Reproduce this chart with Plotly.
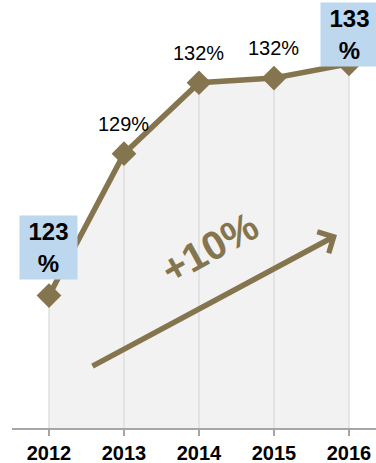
import plotly.graph_objects as go

years = ["2012", "2013", "2014", "2015", "2016"]
values = [123.0, 129.0, 132.0, 132.2, 132.8]
labels = ["123%", "129%", "132%", "132%", "133%"]
highlight = [True, False, False, False, True]
growth_label = "+10%"

BROWN = "#85754E"
BASE = 117.4
FONT = "Arial, Liberation Sans"

fig = go.Figure()

# drop lines from each point to the baseline
dx, dy = [], []
for y, v in zip(years, values):
    dx += [y, y, None]
    dy += [BASE, v, None]

fig.add_trace(go.Scatter(
    x=years, y=values, mode="lines", fill="tozeroy",
    fillcolor="#F2F2F2", line=dict(width=0), hoverinfo="skip", showlegend=False))
fig.add_trace(go.Scatter(
    x=dx, y=dy, mode="lines", line=dict(color="#D9D9D9", width=1.2),
    hoverinfo="skip", showlegend=False))
fig.add_trace(go.Scatter(
    x=years, y=values, mode="lines+markers",
    line=dict(color=BROWN, width=5.5),
    marker=dict(symbol="diamond", size=19, color=BROWN),
    showlegend=False))

for i, (y, v, lab, hl) in enumerate(zip(years, values, labels, highlight)):
    if hl:
        num = lab.rstrip("%")
        fig.add_annotation(
            x=i, y=v, xref="x", yref="y",
            yshift=(48 if i == 0 else 29),
            text=f"<b>{num}</b><br><b>%</b>",
            showarrow=False, bgcolor="#BDD7EE", width=57, height=63,
            borderpad=0, font=dict(family=FONT, size=24, color="#000000"),
            xanchor="center", yanchor="middle")
    else:
        fig.add_annotation(
            x=i, y=v, xref="x", yref="y", yshift=30,
            text=lab, showarrow=False,
            font=dict(family=FONT, size=20, color="#000000"),
            xanchor="center", yanchor="middle")

fig.update_layout(
    width=376, height=463,
    margin=dict(l=12, r=0, t=0, b=35),
    paper_bgcolor="white", plot_bgcolor="white",
    xaxis=dict(type="category", range=[-0.493, 4.36], showgrid=False,
               showline=True, linecolor="#A6A6A6", linewidth=2,
               ticks="outside", ticklen=6, tickcolor="#A6A6A6", tickwidth=1.5,
               tickfont=dict(family=FONT, size=20, color="#000000"),
               tickprefix="<b>", ticksuffix="</b>", fixedrange=True),
    yaxis=dict(range=[BASE, 135.5], visible=False, showgrid=False, fixedrange=True),
)

# growth arrow (decoration, in axis-domain coordinates)
W, H = 364, 428
fig.add_annotation(
    x=(337 - 12) / W, y=1 - 235 / H, ax=(91 - 12) / W, ay=1 - 367 / H,
    xref="x domain", yref="y domain", axref="x domain", ayref="y domain",
    text="", showarrow=True, arrowhead=4, arrowsize=0.85, arrowwidth=5.5,
    arrowcolor=BROWN, standoff=0)
fig.add_annotation(
    x=(209 - 12) / W, y=1 - 248 / H, xref="paper", yref="paper",
    text=f"<b>{growth_label}</b>", showarrow=False, textangle=-29,
    font=dict(family=FONT, size=40, color=BROWN))

fig.write_html("out.html")
